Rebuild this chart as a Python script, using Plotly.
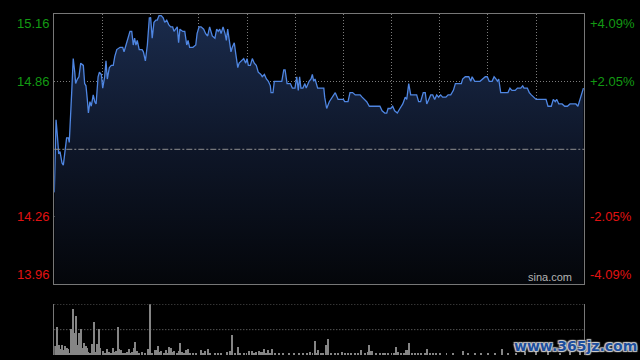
import plotly.graph_objects as go

# ---------------- data ----------------
prev_close = 14.56
max_pct = 0.0409

minute = [
    0, 0.8, 1.4, 2.0, 2.6, 3.5, 4.1, 4.7, 5.6, 6.4,
    6.8, 7.9, 8.6, 9.3, 9.7, 10.5, 11.2, 12.0, 13.2, 13.8,
    14.4, 15.0, 15.5, 16.2, 16.8, 17.7, 18.4, 19.0, 19.9, 20.5,
    21.4, 22.0, 22.9, 23.5, 24.1, 25.0, 25.9, 26.8, 27.5, 28.4,
    29.9, 31.1, 31.7, 32.3, 33.5, 34.4, 35.2, 35.9, 36.5, 37.1,
    37.7, 38.6, 39.9, 40.5, 41.4, 42.3, 43.2, 43.8, 44.5, 45.3,
    46.2, 46.8, 47.6, 48.6, 49.5, 50.2, 51.1, 52.0, 52.9, 53.8,
    54.4, 55.3, 55.9, 56.5, 57.1, 58.4, 59.3, 60.2, 60.8, 61.5,
    63.0, 64.3, 64.9, 65.8, 66.7, 67.9, 68.8, 69.7, 70.6, 71.2,
    71.8, 73.0, 73.8, 74.5, 75.2, 75.8, 76.7, 77.6, 78.2, 78.8,
    79.7, 80.3, 80.9, 81.8, 82.5, 83.4, 84.0, 85.2, 86.1, 87.0,
    87.6, 88.2, 89.1, 90.0, 90.9, 91.8, 92.7, 93.9, 94.5, 95.5,
    96.4, 97.3, 98.2, 98.5, 99.4, 100.0, 103.4, 104.3, 104.9, 105.8,
    107.3, 108.2, 109.4, 110.2, 110.9, 111.5, 112.1, 113.0, 113.9, 114.5,
    115.8, 116.7, 117.3, 117.9, 118.5, 119.7, 121.8, 122.5, 122.9, 123.8,
    125.0, 126.2, 127.7, 129.0, 131.4, 132.0, 133.5, 134.4, 135.6, 136.8,
    139.0, 139.9, 140.8, 142.0, 143.2, 146.5, 148.0, 149.0, 150.2, 151.1,
    151.7, 152.9, 153.8, 154.7, 155.9, 157.1, 158.4, 159.5, 160.2, 161.1,
    162.0, 164.7, 165.6, 166.5, 167.7, 168.6, 169.3, 170.2, 171.1, 172.0,
    172.9, 173.8, 174.7, 175.6, 176.5, 178.0, 179.0, 180.2, 181.4, 182.3,
    183.5, 184.4, 185.0, 185.6, 186.8, 188.4, 189.3, 189.9, 191.1, 193.5,
    194.7, 195.9, 196.8, 197.7, 199.0, 199.9, 200.8, 201.4, 202.0, 202.9,
    206.2, 207.1, 208.0, 209.5, 210.5, 212.0, 212.9, 213.5, 215.0, 215.9,
    216.8, 218.0, 219.0, 223.5, 224.4, 225.9, 226.8, 227.7, 228.4, 229.3,
    230.8, 232.0, 233.2, 234.4, 237.1, 238.0, 239.3, 240.5,
]

price = [
    14.37, 14.69, 14.62, 14.54, 14.55, 14.50, 14.49, 14.53, 14.61, 14.61,
    14.59, 14.81, 14.96, 14.90, 14.85, 14.87, 14.88, 14.94, 14.93, 14.85,
    14.84, 14.78, 14.72, 14.77, 14.75, 14.80, 14.77, 14.76, 14.88, 14.90,
    14.89, 14.83, 14.88, 14.95, 14.87, 14.92, 14.93, 14.93, 14.97, 15.00,
    15.01, 15.01, 14.99, 15.01, 15.05, 15.08, 15.08, 15.02, 15.05, 15.02,
    15.04, 15.00, 15.00, 14.99, 14.95, 15.02, 15.14, 15.14, 15.05, 15.12,
    15.13, 15.13, 15.15, 15.15, 15.14, 15.12, 15.13, 15.11, 15.10, 15.10,
    15.08, 15.09, 15.10, 15.03, 15.09, 15.08, 15.08, 15.02, 15.04, 15.01,
    15.01, 15.02, 15.07, 15.10, 15.10, 15.09, 15.07, 15.06, 15.10, 15.08,
    15.06, 15.05, 15.09, 15.08, 15.09, 15.07, 15.10, 15.07, 15.04, 15.09,
    15.02, 14.99, 15.01, 15.03, 14.98, 14.92, 14.94, 14.95, 14.96, 14.94,
    14.96, 14.93, 14.93, 14.96, 14.94, 14.93, 14.90, 14.89, 14.88, 14.89,
    14.87, 14.86, 14.84, 14.81, 14.81, 14.86, 14.86, 14.91, 14.91, 14.85,
    14.85, 14.83, 14.83, 14.88, 14.82, 14.88, 14.83, 14.83, 14.85, 14.83,
    14.86, 14.87, 14.89, 14.86, 14.87, 14.83, 14.83, 14.83, 14.79, 14.74,
    14.77, 14.79, 14.81, 14.78, 14.78, 14.77, 14.77, 14.81, 14.81, 14.80,
    14.80, 14.79, 14.78, 14.77, 14.75, 14.75, 14.75, 14.73, 14.72, 14.72,
    14.74, 14.74, 14.75, 14.73, 14.72, 14.74, 14.76, 14.79, 14.78, 14.85,
    14.80, 14.80, 14.77, 14.77, 14.81, 14.81, 14.76, 14.78, 14.80, 14.80,
    14.78, 14.80, 14.79, 14.80, 14.79, 14.79, 14.80, 14.80, 14.82, 14.85,
    14.85, 14.85, 14.85, 14.87, 14.88, 14.88, 14.86, 14.88, 14.86, 14.86,
    14.87, 14.88, 14.88, 14.86, 14.86, 14.88, 14.87, 14.86, 14.87, 14.81,
    14.81, 14.83, 14.82, 14.82, 14.83, 14.83, 14.84, 14.83, 14.83, 14.81,
    14.80, 14.79, 14.78, 14.78, 14.75, 14.75, 14.78, 14.77, 14.78, 14.76,
    14.76, 14.75, 14.75, 14.76, 14.76, 14.75, 14.79, 14.83,
]

vol_minute = [
    0.3, 1.4, 2.3, 2.9, 3.6, 4.1, 5.0, 5.9, 6.5, 7.3,
    7.7, 8.6, 9.1, 10.0, 10.5, 11.4, 12.1, 12.7, 13.2, 13.6,
    14.5, 15.0, 15.6, 16.5, 17.3, 18.2, 18.8, 19.5, 20.5, 21.1,
    22.3, 23.4, 24.1, 24.9, 25.8, 26.8, 27.7, 28.4, 29.1, 29.5,
    30.5, 31.4, 32.3, 33.2, 34.1, 35.0, 35.6, 36.5, 37.0, 37.7,
    38.6, 40.0, 41.4, 42.7, 43.6, 44.4, 45.8, 46.5, 47.3, 48.0,
    48.8, 49.9, 50.8, 51.8, 52.3, 53.2, 54.1, 54.7, 55.9, 56.8,
    57.3, 58.2, 59.1, 59.9, 60.9, 61.8, 63.2, 64.7, 66.8, 67.7,
    68.6, 70.0, 71.1, 73.0, 74.5, 76.1, 78.6, 79.9, 80.9, 82.1,
    83.6, 84.7, 86.2, 87.5, 88.6, 90.0, 91.1, 92.0, 93.2, 93.8,
    94.5, 95.5, 96.2, 97.3, 98.0, 99.1, 100.3, 102.3, 104.1, 106.8,
    109.0, 111.4, 113.2, 115.0, 116.2, 117.5, 118.6, 119.3, 120.0, 121.2,
    122.3, 123.6, 124.5, 126.1, 127.6, 129.1, 130.9, 132.1, 133.6, 135.2,
    136.7, 138.2, 139.7, 141.2, 142.7, 143.2, 144.3, 144.7, 146.5, 148.0,
    149.5, 150.6, 151.8, 153.4, 154.4, 155.6, 156.4, 157.9, 159.0, 160.2,
    160.9, 161.4, 162.5, 164.0, 165.5, 167.0, 168.5, 169.5, 170.8, 172.3,
    173.8, 175.3, 178.4, 181.4, 185.9, 188.2, 191.2, 194.3, 197.3, 200.3,
    203.8, 206.4, 210.1, 213.9, 219.3, 224.5, 229.9, 234.4, 239.0,
]

volume = [
    9, 28, 10, 6, 10, 5, 9, 7, 6, 2,
    26, 46, 22, 39, 10, 22, 26, 5, 7, 12,
    9, 7, 3, 2, 11, 33, 3, 11, 26, 7,
    4, 2, 6, 3, 2, 7, 3, 4, 28, 6,
    5, 2, 2, 3, 6, 2, 3, 7, 13, 4,
    2, 3, 2, 6, 51, 2, 5, 5, 9, 3,
    4, 2, 5, 2, 8, 7, 3, 4, 2, 4,
    12, 3, 2, 5, 6, 2, 2, 1, 5, 2,
    4, 6, 2, 1, 1, 2, 3, 4, 20, 1,
    8, 1, 2, 1, 4, 4, 2, 3, 4, 3,
    3, 6, 2, 5, 2, 6, 1, 1, 1, 2,
    1, 1, 1, 2, 3, 2, 14, 2, 5, 2,
    1, 10, 16, 1, 1, 1, 3, 1, 1, 1,
    1, 1, 5, 1, 3, 10, 4, 4, 1, 2,
    1, 2, 2, 1, 1, 8, 3, 1, 2, 5,
    5, 12, 1, 2, 1, 2, 1, 6, 1, 2,
    1, 2, 2, 2, 4, 2, 2, 2, 2, 2,
    6, 2, 2, 3, 5, 7, 2, 3, 4,
]

session_minutes = 240.9
left_labels = ["15.16", "14.86", "14.26", "13.96"]
right_labels = ["+4.09%", "+2.05%", "-2.05%", "-4.09%"]

# ---------------- derived scale values ----------------
y_hi = prev_close * (1 + max_pct)
y_lo = prev_close * (1 - max_pct)
y_mid_hi = prev_close * (1 + max_pct / 2)
y_mid_lo = prev_close * (1 - max_pct / 2)
label_levels = [y_hi, y_mid_hi, y_mid_lo, y_lo]
label_anchor = ["top", "middle", "middle", "bottom"]
label_colors = ["#139a13", "#139a13", "#e01212", "#e01212"]
x_grid = [session_minutes * k / 11 for k in range(1, 11)]
vol_max = max(volume)

GRID = "#7c7c7c"
BORDER = "#777777"
FONT = "Liberation Sans Narrow, Liberation Sans, Arial, sans-serif"

fig = go.Figure()
fig.add_trace(go.Scatter(
    x=minute, y=price, mode="lines",
    line=dict(color="#4f86e2", width=1.3),
    fill="tozeroy",
    fillgradient=dict(type="vertical", start=y_lo, stop=y_hi,
                      colorscale=[[0, "#04060a"], [0.5, "#0e1628"], [1, "#1a2b4c"]]),
    hoverinfo="skip", xaxis="x", yaxis="y",
))
fig.add_trace(go.Bar(
    x=vol_minute, y=volume, width=0.45,
    marker=dict(color="#858585", line=dict(width=0)),
    hoverinfo="skip", xaxis="x2", yaxis="y2",
))

x0, x1 = 54.3 / 640, 584.3 / 640
fig.update_layout(
    width=640, height=360,
    margin=dict(l=0, r=0, t=0, b=0),
    paper_bgcolor="black", plot_bgcolor="black",
    showlegend=False, bargap=0,
    xaxis=dict(domain=[x0, x1], range=[0, session_minutes], tickvals=x_grid,
               showticklabels=False, ticks="", showgrid=True, gridcolor=GRID,
               griddash="1px,2px", gridwidth=1, zeroline=False,
               showline=True, mirror=True, linecolor=BORDER, linewidth=1),
    yaxis=dict(domain=[(360 - 284.3) / 360, (360 - 14.3) / 360], range=[y_lo, y_hi],
               tickvals=[y_mid_hi, y_mid_lo], showticklabels=False, ticks="",
               showgrid=True, gridcolor=GRID, griddash="1px,2px", gridwidth=1,
               zeroline=False, showline=True, mirror=True, linecolor=BORDER, linewidth=1),
    xaxis2=dict(domain=[x0, x1], range=[0, session_minutes], anchor="y2",
                showticklabels=False, ticks="", showgrid=False, zeroline=False, showline=False),
    yaxis2=dict(domain=[5 / 360, (360 - 304.3) / 360], range=[0, vol_max], anchor="x2",
                showticklabels=False, ticks="", showgrid=False, zeroline=False,
                showline=True, mirror=True, linecolor=BORDER, linewidth=1),
)

# previous close (dash-dot) line
fig.add_shape(type="line", xref="x domain", yref="y", x0=0, x1=1, y0=prev_close, y1=prev_close,
              line=dict(color="#8f8f8f", width=1, dash="6px,2px,2px,2px"))
# volume panel dotted guides
for lvl in [vol_max, vol_max / 2]:
    fig.add_shape(type="line", xref="x2 domain", yref="y2", x0=0, x1=1, y0=lvl, y1=lvl,
                  line=dict(color=GRID, width=1, dash="1px,2px"))

for lvl, txt, anc, col in zip(label_levels, left_labels, label_anchor, label_colors):
    fig.add_annotation(xref="paper", yref="y", x=x0, y=lvl, text=txt, showarrow=False,
                       xanchor="right", yanchor=anc, xshift=-2,
                       font=dict(family=FONT, size=13, color=col))
for lvl, txt, anc, col in zip(label_levels, right_labels, label_anchor, label_colors):
    fig.add_annotation(xref="paper", yref="y", x=x1, y=lvl, text=txt, showarrow=False,
                       xanchor="left", yanchor=anc, xshift=4,
                       font=dict(family=FONT, size=13, color=col))

fig.add_annotation(xref="paper", yref="y", x=573.5 / 640, y=y_lo, text="sina.com", showarrow=False,
                   xanchor="right", yanchor="bottom", yshift=-1,
                   font=dict(family="Liberation Sans, Arial, sans-serif", size=11, color="#b4b4b4"))
fig.add_annotation(xref="paper", yref="paper", x=575 / 640, y=(360 - 346) / 360, text="<b>www.365jz.com</b>",
                   showarrow=False, xanchor="center", yanchor="middle",
                   font=dict(family="DejaVu Sans, sans-serif", size=14, color="#1d4f9e",
                             shadow="1px 1px 1px #cfcfcf, -1px -1px 1px #cfcfcf, 1px -1px 1px #cfcfcf, -1px 1px 1px #cfcfcf"))

fig.write_html("out.html")
